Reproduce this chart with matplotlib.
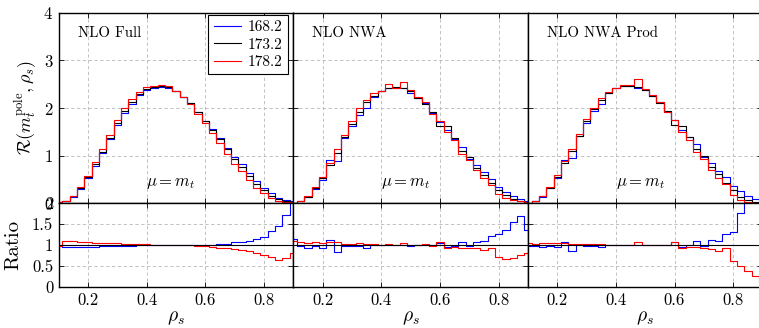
import numpy as np
import matplotlib
matplotlib.use("Agg")
import matplotlib.pyplot as plt

plt.rcParams['mathtext.fontset'] = 'cm'
plt.rcParams['font.family'] = 'serif'
plt.rcParams['font.serif'] = ['cmr10']
plt.rcParams['axes.formatter.use_mathtext'] = True
plt.rcParams['font.size'] = 10

# bin centres (bin width 0.025)
rho = np.linspace(0.1, 0.9, 33)

masses = ['168.2', '173.2', '178.2']
colors = ['blue', 'black', 'red']
titles = ['NLO Full', 'NLO NWA', 'NLO NWA Prod']

# --- NLO Full
full_168 = [0.02, 0.05, 0.14, 0.31, 0.53, 0.79, 1.05, 1.34, 1.65, 1.90, 2.09, 2.27, 2.37, 2.43, 2.45, 2.42, 2.36,
            2.24, 2.10, 1.92, 1.73, 1.56, 1.38, 1.16, 0.98, 0.82, 0.63, 0.46, 0.32, 0.21, 0.12, 0.07, 0.05]
full_173 = [0.02, 0.05, 0.15, 0.33, 0.55, 0.82, 1.08, 1.38, 1.68, 1.94, 2.13, 2.29, 2.39, 2.45, 2.47, 2.44, 2.36,
            2.24, 2.10, 1.92, 1.73, 1.54, 1.35, 1.13, 0.92, 0.76, 0.57, 0.40, 0.27, 0.16, 0.08, 0.04, 0.02]
full_178 = [0.02, 0.05, 0.16, 0.35, 0.58, 0.86, 1.13, 1.44, 1.75, 2.00, 2.19, 2.34, 2.44, 2.47, 2.49, 2.46, 2.36,
            2.24, 2.08, 1.88, 1.68, 1.48, 1.27, 1.04, 0.83, 0.67, 0.49, 0.32, 0.21, 0.12, 0.05, 0.03, 0.02]
full_r168 = [0.98, 0.95, 0.95, 0.95, 0.96, 0.96, 0.97, 0.97, 0.98, 0.98, 0.98, 0.99, 0.99, 0.99, 0.99, 0.99, 1.00,
             1.00, 1.00, 1.00, 1.00, 1.01, 1.02, 1.03, 1.06, 1.08, 1.10, 1.14, 1.18, 1.34, 1.46, 1.72, 2.50]
full_r178 = [0.98, 1.09, 1.09, 1.06, 1.06, 1.05, 1.05, 1.04, 1.04, 1.03, 1.03, 1.02, 1.02, 1.01, 1.01, 1.01, 1.00,
             1.00, 0.99, 0.98, 0.97, 0.96, 0.94, 0.92, 0.90, 0.88, 0.86, 0.80, 0.76, 0.72, 0.64, 0.70, 0.80]

# --- NLO NWA
nwa_168 = [0.01, 0.04, 0.13, 0.31, 0.49, 0.90, 0.88, 1.37, 1.62, 1.86, 2.00, 2.24, 2.36, 2.43, 2.43, 2.42, 2.31,
           2.22, 2.10, 1.90, 1.70, 1.54, 1.34, 1.19, 0.94, 0.81, 0.66, 0.51, 0.35, 0.24, 0.15, 0.09, 0.04]
nwa_173 = [0.01, 0.04, 0.14, 0.32, 0.53, 0.80, 1.06, 1.40, 1.67, 1.92, 2.13, 2.26, 2.36, 2.43, 2.45, 2.42, 2.36,
           2.22, 2.08, 1.92, 1.62, 1.62, 1.38, 1.10, 0.97, 0.75, 0.60, 0.42, 0.28, 0.18, 0.10, 0.05, 0.03]
nwa_178 = [0.01, 0.04, 0.15, 0.34, 0.55, 0.85, 1.14, 1.44, 1.72, 2.00, 2.17, 2.31, 2.36, 2.50, 2.43, 2.54, 2.38,
           2.24, 2.12, 1.88, 1.73, 1.49, 1.32, 1.03, 0.91, 0.70, 0.53, 0.39, 0.20, 0.12, 0.07, 0.04, 0.02]
nwa_r168 = [1.14, 0.98, 0.94, 0.98, 0.92, 1.13, 0.83, 0.98, 0.97, 0.97, 0.94, 0.99, 1.00, 1.00, 0.99, 1.00, 0.98,
            1.00, 1.01, 0.99, 1.05, 0.95, 0.97, 1.08, 0.97, 1.08, 1.10, 1.22, 1.26, 1.36, 1.54, 1.70, 1.35]
nwa_r178 = [1.10, 1.06, 1.04, 1.06, 1.04, 1.06, 1.08, 1.03, 1.03, 1.04, 1.02, 1.02, 1.00, 1.03, 0.99, 1.05, 1.01,
            1.01, 1.02, 0.98, 1.07, 0.92, 0.96, 0.94, 0.94, 0.93, 0.88, 0.94, 0.72, 0.66, 0.68, 0.76, 0.82]

# --- NLO NWA Prod
prod_168 = [0.01, 0.04, 0.14, 0.32, 0.53, 0.91, 0.95, 1.41, 1.69, 1.93, 2.08, 2.31, 2.41, 2.46, 2.47, 2.43, 2.38,
            2.25, 2.12, 1.92, 1.75, 1.54, 1.39, 1.24, 0.98, 0.85, 0.68, 0.55, 0.36, 0.25, 0.15, 0.08, 0.04]
prod_173 = [0.01, 0.04, 0.15, 0.33, 0.56, 0.85, 1.10, 1.42, 1.72, 1.97, 2.17, 2.31, 2.41, 2.46, 2.47, 2.45, 2.38,
            2.25, 2.10, 1.94, 1.65, 1.62, 1.40, 1.13, 1.00, 0.77, 0.62, 0.43, 0.27, 0.14, 0.07, 0.03, 0.015]
prod_178 = [0.01, 0.04, 0.16, 0.34, 0.59, 0.89, 1.13, 1.46, 1.77, 2.01, 2.21, 2.33, 2.41, 2.48, 2.49, 2.60, 2.40,
            2.27, 2.12, 1.92, 1.75, 1.49, 1.33, 1.07, 0.94, 0.70, 0.53, 0.40, 0.17, 0.07, 0.03, 0.01, 0.00]
prod_r168 = [0.98, 0.98, 0.96, 0.97, 0.95, 1.07, 0.86, 0.99, 0.98, 0.98, 0.96, 1.00, 1.00, 1.00, 1.00, 0.99, 1.00,
             1.00, 1.01, 0.99, 1.06, 0.95, 0.99, 1.10, 0.98, 1.11, 1.10, 1.27, 1.32, 1.76, 2.50, 2.50, 2.50]
prod_r178 = [1.05, 1.03, 1.05, 1.04, 1.05, 1.05, 1.03, 1.03, 1.03, 1.02, 1.02, 1.01, 1.00, 1.01, 1.01, 1.06, 1.01,
             1.01, 1.01, 0.99, 1.06, 0.92, 0.95, 0.95, 0.94, 0.91, 0.86, 0.94, 0.62, 0.50, 0.38, 0.25, 0.12]

panels = [
    (full_168, full_173, full_178, full_r168, full_r178),
    (nwa_168, nwa_173, nwa_178, nwa_r168, nwa_r178),
    (prod_168, prod_173, prod_178, prod_r168, prod_r178),
]

W, H = 759, 328
fig = plt.figure(figsize=(W / 100, H / 100), dpi=100)
lefts = [58.7, 293.3, 527.9]
pw = 234.6
gridkw = dict(color='#b8b8b8', lw=0.6, ls=(0, (4, 3)))

for i, (b, k, r, rb, rr) in enumerate(panels):
    ax = fig.add_axes([lefts[i] / W, 1 - 203.3 / H, pw / W, 190.6 / H])
    axr = fig.add_axes([lefts[i] / W, 1 - 286.7 / H, pw / W, 83.4 / H])

    lines = []
    for y, c, m in zip([b, k, r], colors, masses):
        ln, = ax.step(rho, y, where='mid', color=c, lw=0.8, label=m)
        lines.append(ln)
    axr.step(rho, rb, where='mid', color='blue', lw=0.8)
    axr.step(rho, rr, where='mid', color='red', lw=0.8)
    axr.axhline(1.0, color='black', lw=0.8)

    ax.set_xlim(0.1, 0.9)
    ax.set_ylim(0, 4)
    axr.set_xlim(0.1, 0.9)
    axr.set_ylim(0, 2)
    ax.set_xticks([0.2, 0.4, 0.6, 0.8])
    axr.set_xticks([0.2, 0.4, 0.6, 0.8])
    ax.set_yticks([0, 1, 2, 3, 4])
    axr.set_yticks([0, 0.5, 1, 1.5, 2])
    axr.set_yticklabels(['0', '0.5', '1', '1.5', '2'])
    axr.set_xticklabels(['0.2', '0.4', '0.6', '0.8'])
    ax.set_xticklabels([])

    for a in (ax, axr):
        a.set_axisbelow(True)
        a.grid(True, **gridkw)
        a.tick_params(direction='in', left=True, right=True, top=True, bottom=True,
                      length=3.5, width=0.6, labelsize=12, pad=4)
        for s in a.spines.values():
            s.set_linewidth(1.0)
    axr.yaxis.grid(False)
    for yv in [0.5, 1.5]:
        axr.axhline(yv, zorder=0, **gridkw)

    if i > 0:
        ax.set_yticklabels([])
        axr.set_yticklabels([])
    else:
        ax.set_ylabel(r'$\mathcal{R}(m_t^{\rm pole}, \rho_s)$', fontsize=13)
        ax.yaxis.set_label_coords(-0.085, 0.5)
        axr.set_ylabel('Ratio', fontsize=15)
        axr.yaxis.set_label_coords(-0.155, 0.5)
        leg = ax.legend(handles=lines, loc='upper right', bbox_to_anchor=(0.978, 0.988),
                        borderaxespad=0, frameon=True, fancybox=False, edgecolor='black',
                        framealpha=1, handlelength=1.8, handletextpad=0.45, borderpad=0.35,
                        labelspacing=0.25, fontsize=11)
        leg.get_frame().set_linewidth(0.8)

    axr.set_xlabel(r'$\rho_s$', fontsize=14)
    axr.xaxis.set_label_coords(0.5, -0.27)
    ax.text(0.165, 3.57, titles[i], fontsize=10.7, va='center', ha='left')
    ax.text(0.483, 0.42, r'$\mu = m_t$', fontsize=12, va='center', ha='center')

fig.savefig('out.png', dpi=100)
